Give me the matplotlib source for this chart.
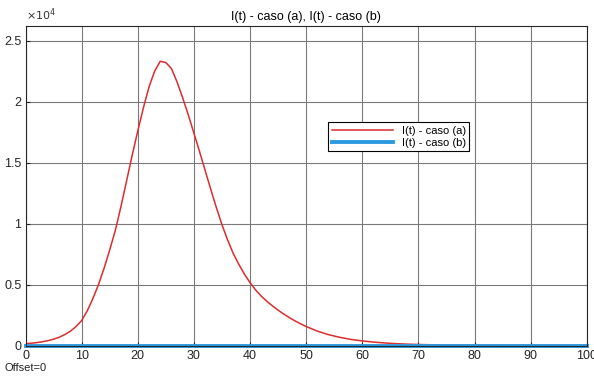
import matplotlib
matplotlib.use('Agg')
import matplotlib.pyplot as plt

# I(t) (unidades: personas)
t_a = [0, 1, 2, 3, 4, 5, 6, 7, 8, 9, 10, 11, 12, 13, 14, 15, 16, 17, 18, 19,
       20, 21, 22, 23, 24, 25, 26, 27, 28, 29, 30, 31, 32, 33, 34, 35, 36, 37,
       38, 39, 40, 41, 42, 43, 44, 45, 46, 47, 48, 49, 50, 52, 54, 56, 58, 60,
       62, 64, 66, 68, 70, 75, 80, 90, 100]
I_a = [150, 190, 240, 310, 400, 520, 680, 900, 1180, 1560, 2050, 2850, 3850,
       5000, 6350, 7850, 9450, 11400, 13500, 15600, 17600, 19500, 21200, 22500,
       23300, 23200, 22700, 21600, 20300, 18900, 17400, 15900, 14350, 12800,
       11300, 9900, 8650, 7550, 6650, 5850, 5150, 4550, 4050, 3620, 3250, 2900,
       2580, 2290, 2020, 1780, 1560, 1180, 890, 670, 500, 380, 285, 210, 155,
       115, 85, 40, 20, 5, 2]

t_b = [0, 25, 50, 75, 100]
I_b = [0, 0, 0, 0, 0]

yticks = [0, 5000, 10000, 15000, 20000, 25000]
ylabels = ['0', '0.5', '1', '1.5', '2', '2.5']

plt.rcParams['font.family'] = ['Liberation Sans', 'DejaVu Sans']

fig = plt.figure(figsize=(5.94, 3.76), dpi=100)
ax = fig.add_axes([0.043, 0.081, 0.945, 0.850])

ax.plot(t_a, I_a, color='#dd2c2c', lw=1.1, label='I(t) - caso (a)')
ax.plot(t_b, I_b, color='#2a9ae0', lw=2.8, label='I(t) - caso (b)', clip_on=False)

ax.set_xlim(0, 100)
ax.set_ylim(0, 26200)
ax.set_xticks(range(0, 101, 10))
ax.set_yticks(yticks)
ax.set_yticklabels(ylabels)
ax.tick_params(direction='in', length=3, labelsize=9, colors='#262626', pad=3)
ax.grid(True, color='#7a7a7a', lw=0.8)
for s in ax.spines.values():
    s.set_color('#262626')
    s.set_linewidth(0.8)

ax.set_title('I(t) - caso (a), I(t) - caso (b)', fontsize=9, pad=4)
ax.text(0.0, 1.008, r'$\times10^4$', transform=ax.transAxes, fontsize=8,
        color='#333333', va='bottom', ha='left')
fig.text(0.008, 0.012, 'Offset=0', fontsize=8, color='#222222')

leg = ax.legend(loc='center', bbox_to_anchor=(0.665, 0.653), fontsize=8,
                fancybox=False, framealpha=1, edgecolor='black',
                borderpad=0.3, handlelength=5.5, labelspacing=0.2)
leg.get_frame().set_linewidth(0.8)

fig.savefig('out.png', dpi=100)
